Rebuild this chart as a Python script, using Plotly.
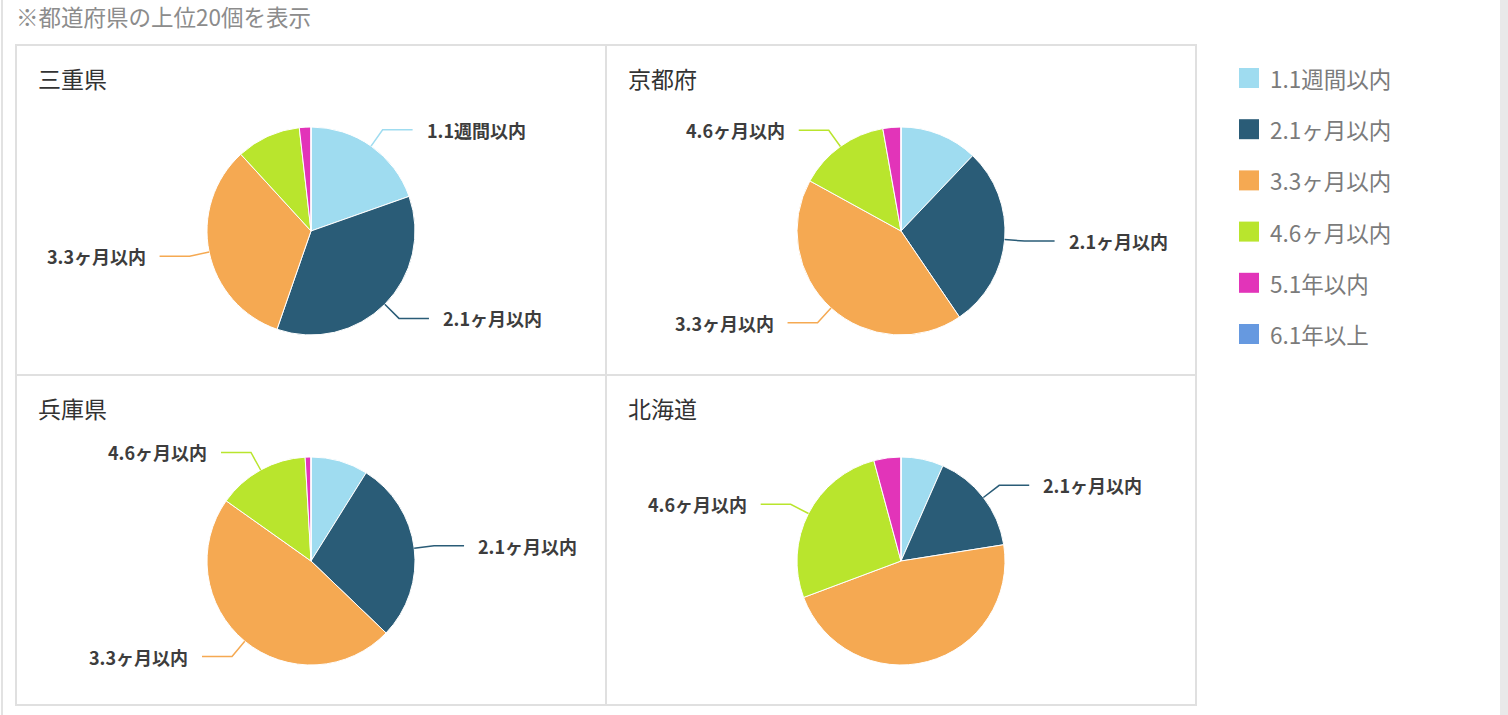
import math
import plotly.graph_objects as go

# ---- data -------------------------------------------------------------
categories = ["1.1週間以内", "2.1ヶ月以内", "3.3ヶ月以内", "4.6ヶ月以内", "5.1年以内", "6.1年以上"]
colors = ["#9fdcf0", "#2a5c77", "#f5a952", "#b9e52d", "#e234b9", "#6699e0"]

prefectures = ["三重県", "京都府", "兵庫県", "北海道"]

# share of each period per prefecture (%)
mie = [19.6, 35.7, 32.9, 10.0, 1.8, 0.0]
kyoto = [12.1, 28.4, 42.5, 14.2, 2.8, 0.0]
hyogo = [8.9, 28.3, 47.7, 14.3, 0.9, 0.0]
hokkaido = [6.6, 15.9, 46.8, 26.5, 4.2, 0.0]

# slices that carry an outside label
mie_labeled = ["1.1週間以内", "2.1ヶ月以内", "3.3ヶ月以内"]
kyoto_labeled = ["2.1ヶ月以内", "3.3ヶ月以内", "4.6ヶ月以内"]
hyogo_labeled = ["2.1ヶ月以内", "3.3ヶ月以内", "4.6ヶ月以内"]
hokkaido_labeled = ["2.1ヶ月以内", "4.6ヶ月以内"]

note = "※都道府県の上位20個を表示"

# ---- layout geometry (pixels) ----------------------------------------
W, H = 1508, 715
GX = [16, 606, 1196]
GY = [45, 375, 705]
R = 104
FONT = "Noto Sans CJK JP"


def px(x, y):
    return x / W, 1 - y / H


panels = [
    (prefectures[0], mie, mie_labeled, 0, 0),
    (prefectures[1], kyoto, kyoto_labeled, 1, 0),
    (prefectures[2], hyogo, hyogo_labeled, 0, 1),
    (prefectures[3], hokkaido, hokkaido_labeled, 1, 1),
]

fig = go.Figure()
shapes = []
annotations = []

for name, values, labeled, col, row in panels:
    left, right = GX[col], GX[col + 1]
    top = GY[row]
    cx = (left + right) / 2
    cy = top + 186

    x0, y1 = px(cx - R, cy - R)
    x1, y0 = px(cx + R, cy + R)
    fig.add_trace(go.Pie(
        labels=categories,
        values=values,
        marker=dict(colors=colors, line=dict(color="white", width=1)),
        sort=False,
        direction="clockwise",
        rotation=0,
        textinfo="none",
        hoverinfo="label+percent",
        showlegend=False,
        domain=dict(x=[x0, x1], y=[y0, y1]),
        name=name,
    ))

    # panel title
    tx, ty = px(left + 20, top + 33)
    annotations.append(dict(
        x=tx, y=ty, xref="paper", yref="paper", text=name, showarrow=False,
        xanchor="left", yanchor="middle",
        font=dict(family=FONT, size=23, color="#333333"),
    ))

    # outside labels with elbow connectors
    total = sum(values)
    cum = 0.0
    for cat, v, c in zip(categories, values, colors):
        start = cum / total * 360
        cum += v
        end = cum / total * 360
        if cat not in labeled:
            continue
        mid = math.radians((start + end) / 2)
        s, co = math.sin(mid), math.cos(mid)
        sx, sy = cx + R * s, cy - R * co
        ex, ey = cx + (R + 20) * s, cy - (R + 20) * co
        side = 1 if s >= 0 else -1
        hx = ex + side * 30
        p = [px(sx, sy), px(ex, ey), px(hx, ey)]
        path = "M {},{} L {},{} L {},{}".format(p[0][0], p[0][1], p[1][0], p[1][1], p[2][0], p[2][1])
        shapes.append(dict(type="path", path=path, xref="paper", yref="paper",
                           line=dict(color=c, width=1.5)))
        lx, ly = px(hx + side * 12, ey)
        annotations.append(dict(
            x=lx, y=ly, xref="paper", yref="paper", text=cat, showarrow=False,
            xanchor="left" if side > 0 else "right", yanchor="middle",
            font=dict(family=FONT, size=18, color="#3d3d3d", weight="bold"),
        ))

# grid borders
border = "#e0e0e0"
bx0, by1 = px(GX[0], GY[0])
bx1, by0 = px(GX[2], GY[2])
shapes.append(dict(type="rect", xref="paper", yref="paper", x0=bx0, x1=bx1, y0=by0, y1=by1,
                   line=dict(color=border, width=2)))
mx, _ = px(GX[1], 0)
shapes.append(dict(type="line", xref="paper", yref="paper", x0=mx, x1=mx, y0=by0, y1=by1,
                   line=dict(color=border, width=2)))
_, my = px(0, GY[1])
shapes.append(dict(type="line", xref="paper", yref="paper", x0=bx0, x1=bx1, y0=my, y1=my,
                   line=dict(color=border, width=2)))

# page edges
lx0, _ = px(2, 0)
shapes.append(dict(type="line", xref="paper", yref="paper", x0=lx0, x1=lx0, y0=0, y1=1,
                   line=dict(color="#e2e2e2", width=2)))
rx0, _ = px(1500, 0)
shapes.append(dict(type="rect", xref="paper", yref="paper", x0=rx0, x1=1, y0=0, y1=1,
                   fillcolor="#e9e9e9", line=dict(width=0)))

# legend
for i, (cat, c) in enumerate(zip(categories, colors)):
    yc = 78 + i * 51.2
    ax0, ay1 = px(1239, yc - 10)
    ax1, ay0 = px(1259, yc + 10)
    shapes.append(dict(type="rect", xref="paper", yref="paper", x0=ax0, x1=ax1, y0=ay0, y1=ay1,
                       fillcolor=c, line=dict(width=0)))
    tx, ty = px(1268, yc)
    annotations.append(dict(
        x=tx, y=ty, xref="paper", yref="paper", text=cat, showarrow=False,
        xanchor="left", yanchor="middle",
        font=dict(family=FONT, size=22.5, color="#7b7b7b"),
    ))

# note above the grid
nx, ny = px(14, 16)
annotations.append(dict(
    x=nx, y=ny, xref="paper", yref="paper", text=note, showarrow=False,
    xanchor="left", yanchor="middle",
    font=dict(family=FONT, size=22.5, color="#8c8c8c"),
))

fig.update_layout(
    width=W, height=H, autosize=False,
    margin=dict(l=0, r=0, t=0, b=0),
    paper_bgcolor="white", plot_bgcolor="white",
    shapes=shapes, annotations=annotations,
    showlegend=False,
)

fig.write_html("out.html")
